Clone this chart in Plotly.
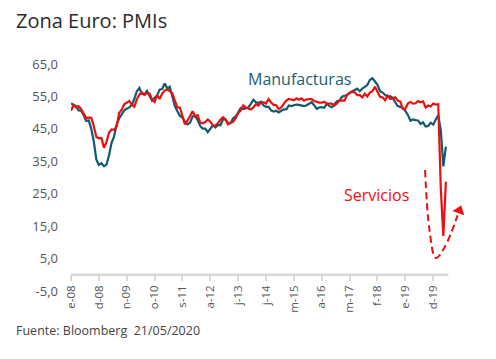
import plotly.graph_objects as go

# Monthly PMIs, Zona Euro, e-08 .. may-20
manufacturas = [
    52.8, 52.3, 52.0, 50.7, 50.6, 49.2, 47.4, 47.6, 45.0, 41.1, 35.6, 33.9,
    34.4, 33.5, 33.9, 36.8, 40.7, 42.6, 46.3, 48.2, 49.3, 50.7, 51.2, 51.6,
    52.4, 54.2, 56.6, 57.6, 55.8, 55.6, 56.7, 55.1, 53.7, 54.6, 55.3, 57.1,
    57.3, 59.0, 57.5, 58.0, 54.6, 52.0, 50.4, 49.0, 48.5, 47.1, 46.4, 46.9,
    48.8, 49.0, 47.7, 45.9, 45.1, 45.1, 44.0, 45.1, 46.1, 45.4, 46.2, 46.1,
    47.9, 47.9, 46.8, 46.7, 48.3, 48.8, 50.3, 51.4, 51.1, 51.3, 51.6, 52.7,
    54.0, 53.2, 53.0, 53.4, 52.2, 51.8, 51.8, 50.7, 50.3, 50.6, 50.1, 50.6,
    51.0, 51.0, 52.2, 52.0, 52.2, 52.5, 52.4, 52.3, 52.0, 52.3, 52.8, 53.2,
    52.3, 51.2, 51.6, 51.7, 51.5, 52.8, 52.0, 51.7, 52.6, 53.5, 53.7, 54.9,
    55.2, 55.4, 56.2, 56.7, 57.0, 57.4, 56.6, 57.4, 58.1, 58.5, 60.1, 60.6,
    59.6, 58.6, 56.6, 56.2, 55.5, 54.9, 55.1, 54.6, 53.2, 52.0, 51.8, 51.4,
    50.5, 49.3, 47.5, 47.9, 47.7, 47.6, 46.5, 47.0, 45.7, 45.9, 46.9, 46.3,
    47.9, 49.2, 44.5, 33.4, 39.5,
]
servicios = [
    50.6, 52.3, 51.6, 52.0, 51.1, 49.5, 48.3, 48.5, 48.4, 45.8, 42.5, 42.1,
    42.2, 39.2, 40.9, 43.8, 44.8, 44.7, 45.7, 49.9, 50.9, 52.6, 53.0, 53.6,
    52.5, 51.8, 54.1, 55.6, 56.2, 55.5, 56.0, 55.9, 54.1, 53.3, 55.4, 54.2,
    55.9, 56.8, 57.2, 56.7, 56.0, 53.7, 51.6, 51.5, 48.8, 46.4, 47.5, 48.8,
    50.4, 48.8, 49.2, 46.9, 46.7, 47.1, 47.9, 47.2, 46.1, 46.0, 46.7, 47.8,
    48.6, 47.9, 46.4, 47.0, 47.2, 48.3, 49.8, 50.7, 52.2, 51.6, 51.2, 51.0,
    51.6, 52.6, 52.2, 53.1, 53.2, 52.8, 54.2, 53.1, 52.4, 52.3, 51.1, 51.6,
    52.7, 53.7, 54.2, 54.1, 53.8, 54.4, 54.0, 54.4, 53.7, 54.1, 54.2, 54.2,
    53.6, 53.3, 53.1, 53.1, 53.3, 52.8, 52.9, 52.8, 52.2, 52.8, 53.8, 53.7,
    53.7, 55.5, 56.0, 56.4, 56.3, 55.4, 55.4, 54.7, 55.8, 55.0, 56.2, 56.6,
    58.0, 56.2, 54.9, 54.7, 53.8, 55.2, 54.2, 54.4, 54.7, 53.7, 53.4, 51.2,
    51.2, 52.8, 53.3, 52.8, 52.9, 53.6, 53.2, 53.5, 51.6, 52.2, 51.9, 52.8,
    52.5, 52.6, 26.4, 12.0, 28.7,
]
months = list(range(len(manufacturas)))  # 0 = enero 2008

tick_months = [0, 11, 22, 33, 44, 55, 66, 77, 88, 99, 110, 121, 132, 143]
tick_labels = ["e-08", "d-08", "n-09", "o-10", "s-11", "a-12", "j-13", "j-14",
               "m-15", "a-16", "m-17", "f-18", "e-19", "d-19"]
y_ticks = [-5, 5, 15, 25, 35, 45, 55, 65]
y_labels = [f"{v:.1f}".replace(".", ",") for v in y_ticks]

# decorative dashed arrow (month index, value)
arrow_x = [139.8, 141.5, 144.0, 147.5, 152.6]
arrow_y = [32.3, 14.0, 5.2, 8.5, 18.3]
arrow_tip_x = [153.3]
arrow_tip_y = [19.8]

TEAL = "#0f5b6f"
RED = "#f00d0d"
GRAY = "#d9d9d9"
FONT = "Open Sans"

# page body has an 8px margin: figure is 488x351 placed at (8, 8)
W, H = 488, 351
L, T, PW, PH = 63, 56, 404, 227

fig = go.Figure()
fig.add_trace(go.Scatter(x=months, y=manufacturas, mode="lines",
                         line=dict(color=TEAL, width=2.2), name="Manufacturas"))
fig.add_trace(go.Scatter(x=months, y=servicios, mode="lines",
                         line=dict(color=RED, width=2.2), name="Servicios"))
fig.add_trace(go.Scatter(x=arrow_x, y=arrow_y, mode="lines",
                         line=dict(color=RED, width=2, dash="7px,4px", shape="spline"),
                         hoverinfo="skip"))
fig.add_trace(go.Scatter(x=arrow_tip_x, y=arrow_tip_y, mode="markers",
                         marker=dict(symbol="triangle-up", size=11, color=RED, angle=20),
                         cliponaxis=False, hoverinfo="skip"))

# x axis line sitting at y = 0
fig.add_shape(type="line", xref="x", yref="y", x0=0, x1=149, y0=0, y1=0,
              line=dict(color=GRAY, width=2.5), layer="below")

fig.update_layout(
    width=W, height=H,
    margin=dict(l=L, r=W - L - PW, t=T, b=H - T - PH),
    paper_bgcolor="white", plot_bgcolor="white",
    showlegend=False,
    font=dict(family=FONT, color="#555555"),
    xaxis=dict(range=[0, 159.5], tickmode="array", tickvals=tick_months,
               ticktext=tick_labels, tickangle=-90, showgrid=False, zeroline=False,
               showline=False, ticks="outside", ticklen=5, tickwidth=2,
               tickcolor=GRAY, anchor="free", position=5 / 70,
               tickfont=dict(size=11.5, color="#555555")),
    yaxis=dict(range=[-5, 65], tickmode="array", tickvals=y_ticks, ticktext=y_labels,
               showgrid=False, zeroline=False, showline=False,
               ticklabelstandoff=12, tickfont=dict(size=13, color="#555555")),
    annotations=[
        dict(text="Zona Euro: PMIs", xref="paper", yref="paper",
             x=(6 - L) / PW, y=1 + (T - 12) / PH,
             xanchor="left", yanchor="middle", showarrow=False,
             font=dict(size=20, color="#2b2b2b", family=FONT)),
        dict(text="Manufacturas", xref="x", yref="y", x=69, y=60.4, xanchor="left",
             yanchor="middle", showarrow=False, font=dict(size=16, color="#1a5d72", family=FONT)),
        dict(text="Servicios", xref="x", yref="y", x=107, y=24.5, xanchor="left",
             yanchor="middle", showarrow=False, font=dict(size=16, color=RED, family=FONT)),
        dict(text="Fuente: Bloomberg  21/05/2020", xref="paper", yref="paper",
             x=(6 - L) / PW, y=-(322 - (T + PH)) / PH, xanchor="left", yanchor="middle",
             showarrow=False, font=dict(size=12.5, color="#444444", family=FONT)),
    ],
)

fig.write_html("out.html")
